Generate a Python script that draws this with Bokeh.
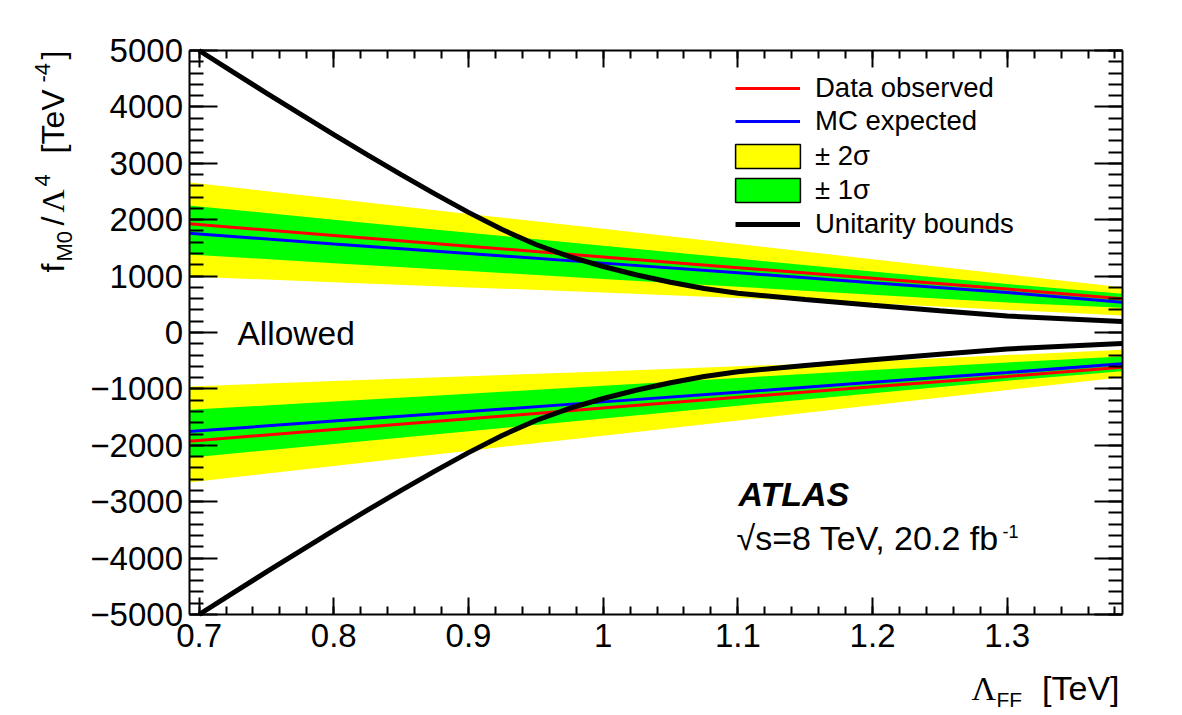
import numpy as np
from bokeh.plotting import figure
from bokeh.models import (LinearAxis, FixedTicker, Label, Legend, LegendItem,
                          ColumnDataSource)
from bokeh.embed import file_html
from bokeh.resources import INLINE

# ---- data -------------------------------------------------------------
# form-factor scale (TeV) at which the limit bands are evaluated
lam_band = [0.6925, 0.80, 0.90, 1.00, 1.10, 1.20, 1.30, 1.3852]

# positive side of the limit on f_M0/Lambda^4 (TeV^-4)
obs_pos = [1927, 1720, 1530, 1340, 1150, 960, 770, 597]
exp_pos = [1760, 1570, 1400, 1230, 1060, 880, 710, 537]
s1_pos_hi = [2252, 2000, 1770, 1540, 1310, 1080, 860, 686]
s1_pos_lo = [1383, 1230, 1090, 950, 810, 670, 530, 438]
s2_pos_hi = [2665, 2370, 2100, 1840, 1570, 1300, 1030, 803]
s2_pos_lo = [993, 890, 800, 710, 610, 520, 400, 301]

# negative side of the limit
obs_neg = [-1927, -1720, -1530, -1340, -1150, -960, -780, -615]
exp_neg = [-1755, -1570, -1400, -1230, -1060, -880, -710, -555]
s1_neg_hi = [-1371, -1225, -1085, -945, -805, -665, -530, -426]
s1_neg_lo = [-2222, -1975, -1750, -1525, -1300, -1075, -855, -686]
s2_neg_hi = [-957, -860, -775, -690, -600, -510, -400, -307]
s2_neg_lo = [-2660, -2365, -2095, -1830, -1560, -1290, -1020, -793]

# unitarity bound (symmetric in sign)
lam_unit = [0.70, 0.725, 0.75, 0.775, 0.80, 0.825, 0.85, 0.875, 0.90, 0.925,
            0.95, 0.975, 1.00, 1.025, 1.05, 1.075, 1.10, 1.15, 1.20, 1.25,
            1.30, 1.3852]
unit_bound = [5000, 4620, 4245, 3875, 3510, 3150, 2798, 2458, 2130, 1825,
              1560, 1345, 1170, 1020, 890, 780, 695, 585, 483, 385,
              292, 195]

y_ticks = [-5000, -4000, -3000, -2000, -1000, 0, 1000, 2000, 3000, 4000, 5000]
x_ticks = [0.7, 0.8, 0.9, 1.0, 1.1, 1.2, 1.3]
x_tick_labels = ["0.7", "0.8", "0.9", "1", "1.1", "1.2", "1.3"]

X_LO, X_HI = 0.6925, 1.3852
Y_LO, Y_HI = -5000, 5000

FONT = "Liberation Sans"
SERIF = "Liberation Serif"

# ---- canvas / frame geometry -----------------------------------------
W, H = 1182, 715
BOX_L, BOX_R, BOX_T, BOX_B = 188.5, 1121.5, 50, 614   # axis box in pixels
kx = (X_HI - X_LO) / (BOX_R - BOX_L)
ky = (Y_HI - Y_LO) / (BOX_B - BOX_T)
x_range = (X_LO - BOX_L * kx, X_HI + (W - BOX_R) * kx)
y_range = (Y_LO - (H - BOX_B) * ky, Y_HI + BOX_T * ky)

p = figure(frame_width=W, frame_height=H, min_border=0,
           x_range=x_range, y_range=y_range,
           output_backend="svg", toolbar_location=None,
           x_axis_location=None, y_axis_location=None)
p.grid.visible = False
p.outline_line_color = None
p.background_fill_color = "white"
p.border_fill_color = "white"

src = ColumnDataSource(dict(
    x=lam_band, obs_p=obs_pos, exp_p=exp_pos, s1ph=s1_pos_hi, s1pl=s1_pos_lo,
    s2ph=s2_pos_hi, s2pl=s2_pos_lo, obs_n=obs_neg, exp_n=exp_neg,
    s1nh=s1_neg_hi, s1nl=s1_neg_lo, s2nh=s2_neg_hi, s2nl=s2_neg_lo))
usrc = ColumnDataSource(dict(x=lam_unit, up=unit_bound,
                             dn=[-v for v in unit_bound]))

YEL, GRN = "#ffff00", "#00ff00"
p.varea(x="x", y1="s2pl", y2="s2ph", source=src, fill_color=YEL)
p.varea(x="x", y1="s2nl", y2="s2nh", source=src, fill_color=YEL)
p.varea(x="x", y1="s1pl", y2="s1ph", source=src, fill_color=GRN)
p.varea(x="x", y1="s1nl", y2="s1nh", source=src, fill_color=GRN)
r_obs = p.line(x="x", y="obs_p", source=src, line_color="#ff0000", line_width=3)
p.line(x="x", y="obs_n", source=src, line_color="#ff0000", line_width=3)
r_exp = p.line(x="x", y="exp_p", source=src, line_color="#0000ff", line_width=3)
p.line(x="x", y="exp_n", source=src, line_color="#0000ff", line_width=3)
r_unit = p.line(x="x", y="up", source=usrc, line_color="black", line_width=5)
p.line(x="x", y="dn", source=usrc, line_color="black", line_width=5)

# boxes with no drawable extent, used only as legend swatches for the bands
nan_box = dict(left=[np.nan], right=[np.nan], top=[np.nan], bottom=[np.nan])
r_s2 = p.quad(**nan_box, fill_color=YEL, line_color="black", line_width=1.5)
r_s1 = p.quad(**nan_box, fill_color=GRN, line_color="black", line_width=1.5)

# ---- axes (ticks on all four sides, pointing inwards) -----------------
def make_axis(ticks, minor, overrides, loc, bounds, labels=True,
              major_len=17, minor_len=8):
    ax = LinearAxis(ticker=FixedTicker(ticks=ticks, minor_ticks=minor),
                    fixed_location=loc, bounds=bounds)
    ax.axis_line_width = 2
    ax.major_tick_in, ax.major_tick_out = major_len, 0
    ax.minor_tick_in, ax.minor_tick_out = minor_len, 0
    ax.major_tick_line_width = 2
    ax.minor_tick_line_width = 2
    ax.major_label_text_font = FONT
    ax.major_label_text_font_size = "33px"
    ax.major_label_text_color = "black"
    if labels:
        ax.major_label_overrides = overrides
    else:
        ax.major_label_text_alpha = 0
    return ax

x_minor = [round(0.70 + 0.02 * i, 2) for i in range(35)]
y_minor = list(range(-5000, 5001, 200))
x_over = {t: s for t, s in zip(x_ticks, x_tick_labels)}
y_over = {t: (("\u2212" + str(-t)) if t < 0 else str(t)) for t in y_ticks}

xb = make_axis(x_ticks, x_minor, x_over, Y_LO, (X_LO, X_HI))
xb.major_label_standoff = 9
p.add_layout(xb, "below")
xt = make_axis(x_ticks, x_minor, {}, Y_HI, (X_LO, X_HI), labels=False)
p.add_layout(xt, "above")
yl = make_axis(y_ticks, y_minor, y_over, X_LO, (Y_LO, Y_HI),
               major_len=28, minor_len=14)
yl.major_label_standoff = 6
p.add_layout(yl, "left")
yr = make_axis(y_ticks, y_minor, {}, X_HI, (Y_LO, Y_HI), labels=False,
               major_len=28, minor_len=14)
p.add_layout(yr, "right")

# ---- text -------------------------------------------------------------
def put(text, cx, cy, size=33, font=FONT, style="normal", angle=0,
        align="left"):
    # (cx, cy): start of the text baseline on the canvas, y downwards
    shift = 0.36 * size
    if angle:
        cx -= shift
    else:
        cy -= shift
    p.add_layout(Label(x=cx, y=H - cy, x_units="screen", y_units="screen",
                       text=text, text_font=font, text_font_size=f"{size}px",
                       text_font_style=style, angle=angle, text_align=align,
                       text_baseline="alphabetic", text_color="black"))

# x-axis title: Lambda_FF [TeV]
put("\u039b", 971, 700, size=34, font=SERIF)
put("FF", 996, 707, size=21)
put("[TeV]", 1119, 700, size=34, align="right")

# y-axis title: f_M0 / Lambda^4 [TeV^-4], reading bottom to top
a = np.pi / 2
put("f", 64, 272, size=32, angle=a)
put("M0", 71.5, 261, size=22, angle=a)
put("/", 64, 225, size=32, angle=a)
put("\u039b", 64, 212, size=32, font=SERIF, angle=a)
put("4", 50, 186, size=22, angle=a)
put("[TeV", 64, 153, size=32, angle=a)
put("-4", 50, 82, size=22, angle=a)
put("]", 64, 59, size=32, angle=a)

put("Allowed", 237, 345, size=33.5)
put("ATLAS", 738, 506, size=34, style="bold italic")
put("\u221as=8 TeV, 20.2 fb", 736, 550, size=34)
put("-1", 1002, 537, size=18)

# ---- legend (three blocks so line and box swatches get their own sizes) --
def make_legend(items, loc, gw, gh, standoff, spacing):
    lg = Legend(items=items, location=loc)
    lg.label_text_font = FONT
    lg.label_text_font_size = "27.5px"
    lg.label_text_color = "black"
    lg.glyph_width = gw
    lg.glyph_height = gh
    lg.label_height = 24
    lg.label_standoff = standoff
    lg.spacing = spacing
    lg.padding = 0
    lg.margin = 0
    lg.border_line_color = None
    lg.background_fill_alpha = 0
    p.add_layout(lg)

make_legend([LegendItem(label="Data observed", renderers=[r_obs]),
             LegendItem(label="MC expected", renderers=[r_exp])],
            (735, H - 137), 65, 24, 15, 1)
# area swatches are drawn at 80% of the glyph box
make_legend([LegendItem(label="\u00b1 2\u03c3", renderers=[r_s2]),
             LegendItem(label="\u00b1 1\u03c3", renderers=[r_s1])],
            (727, H - 206), 81, 30, 7, 2)
make_legend([LegendItem(label="Unitarity bounds", renderers=[r_unit])],
            (735, H - 240), 65, 24, 15, 0)

open("out.html", "w").write(file_html(p, INLINE))
